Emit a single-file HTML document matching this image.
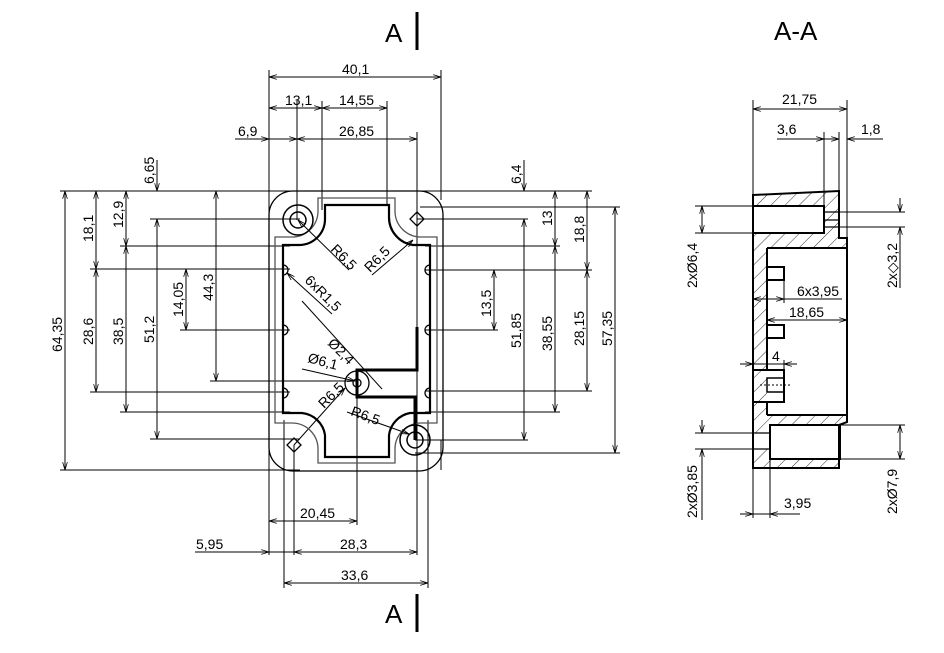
<!DOCTYPE html>
<html><head><meta charset="utf-8"><style>
html,body{margin:0;padding:0;background:#fff;}
svg{display:block;}
text{font-family:"Liberation Sans",sans-serif;font-size:14px;fill:#000;}
</style></head><body>
<svg width="944" height="653" viewBox="0 0 944 653" xmlns="http://www.w3.org/2000/svg">
<defs>
<marker id="a" viewBox="0 0 10 6" refX="10" refY="3" markerWidth="8" markerHeight="5" orient="auto-start-reverse" markerUnits="userSpaceOnUse"><path d="M0,0 L10,3 L0,6" fill="none" stroke="#000" stroke-width="1"/></marker>
<pattern id="h" width="10" height="10" patternUnits="userSpaceOnUse" patternTransform="rotate(45)"><line x1="0" y1="0" x2="0" y2="10" stroke="#000" stroke-width="0.8"/></pattern>
</defs>

<text x="385" y="42" style="font-size:26px">A</text>
<line x1="417" y1="12" x2="417" y2="50" stroke="#000" stroke-width="3"/>
<text x="385" y="623" style="font-size:26px">A</text>
<line x1="417" y1="594" x2="417" y2="632" stroke="#000" stroke-width="3"/>
<text x="774" y="40" style="font-size:26px">A-A</text>

<g stroke="#000" stroke-width="1" fill="none">
<line x1="269" y1="70" x2="269" y2="555"/>
<line x1="441" y1="70" x2="441" y2="200"/>
<line x1="297" y1="101" x2="297" y2="220"/>
<line x1="322" y1="101" x2="322" y2="210"/>
<line x1="387" y1="101" x2="387" y2="205"/>
<line x1="417" y1="132" x2="417" y2="555"/>
<line x1="294" y1="445" x2="294" y2="555"/>
<line x1="357" y1="383" x2="357" y2="525"/>
<line x1="284" y1="420" x2="284" y2="588"/>
<line x1="428" y1="420" x2="428" y2="588"/>
<line x1="441" y1="440" x2="441" y2="470"/>
<line x1="60" y1="191" x2="300" y2="191"/>
<line x1="420" y1="191" x2="592" y2="191"/>
<line x1="60" y1="470" x2="300" y2="470"/>
<line x1="150" y1="219" x2="300" y2="219"/>
<line x1="417" y1="219" x2="528" y2="219"/>
<line x1="120" y1="246" x2="290" y2="246"/>
<line x1="425" y1="246" x2="560" y2="246"/>
<line x1="90" y1="269" x2="290" y2="269"/>
<line x1="425" y1="270" x2="592" y2="270"/>
<line x1="180" y1="330" x2="290" y2="330"/>
<line x1="425" y1="330" x2="498" y2="330"/>
<line x1="210" y1="381" x2="357" y2="381"/>
<line x1="90" y1="392" x2="290" y2="392"/>
<line x1="425" y1="391" x2="592" y2="391"/>
<line x1="120" y1="412" x2="290" y2="412"/>
<line x1="425" y1="412" x2="560" y2="412"/>
<line x1="150" y1="439" x2="300" y2="439"/>
<line x1="415" y1="440" x2="528" y2="440"/>
<line x1="420" y1="207" x2="620" y2="207"/>
<line x1="415" y1="453" x2="620" y2="453"/>

<line x1="269" y1="77" x2="441" y2="77" marker-start="url(#a)" marker-end="url(#a)"/>
<line x1="269" y1="108" x2="322" y2="108" marker-start="url(#a)" marker-end="url(#a)"/>
<line x1="322" y1="108" x2="387" y2="108" marker-start="url(#a)" marker-end="url(#a)"/>
<line x1="297" y1="139" x2="417" y2="139" marker-start="url(#a)" marker-end="url(#a)"/>
<line x1="235" y1="139" x2="269" y2="139" marker-end="url(#a)"/>
<line x1="269" y1="139" x2="297" y2="139" marker-end="url(#a)"/>
<line x1="269" y1="521" x2="357" y2="521" marker-start="url(#a)" marker-end="url(#a)"/>
<line x1="294" y1="552" x2="417" y2="552" marker-start="url(#a)" marker-end="url(#a)"/>
<line x1="195" y1="552" x2="269" y2="552" marker-end="url(#a)"/>
<line x1="269" y1="552" x2="294" y2="552"/>
<line x1="284" y1="583" x2="428" y2="583" marker-start="url(#a)" marker-end="url(#a)"/>
<line x1="65" y1="191" x2="65" y2="470" marker-start="url(#a)" marker-end="url(#a)"/>
<line x1="96" y1="191" x2="96" y2="269" marker-start="url(#a)" marker-end="url(#a)"/>
<line x1="96" y1="269" x2="96" y2="392" marker-start="url(#a)" marker-end="url(#a)"/>
<line x1="126" y1="191" x2="126" y2="246" marker-start="url(#a)" marker-end="url(#a)"/>
<line x1="126" y1="246" x2="126" y2="412" marker-start="url(#a)" marker-end="url(#a)"/>
<line x1="157" y1="160" x2="157" y2="191" marker-end="url(#a)"/>
<line x1="157" y1="219" x2="157" y2="439" marker-start="url(#a)" marker-end="url(#a)"/>
<line x1="186" y1="269" x2="186" y2="330" marker-start="url(#a)" marker-end="url(#a)"/>
<line x1="216" y1="191" x2="216" y2="381" marker-start="url(#a)" marker-end="url(#a)"/>
<line x1="615" y1="207" x2="615" y2="453" marker-start="url(#a)" marker-end="url(#a)"/>
<line x1="587" y1="191" x2="587" y2="270" marker-start="url(#a)" marker-end="url(#a)"/>
<line x1="587" y1="270" x2="587" y2="391" marker-start="url(#a)" marker-end="url(#a)"/>
<line x1="555" y1="191" x2="555" y2="246" marker-start="url(#a)" marker-end="url(#a)"/>
<line x1="555" y1="246" x2="555" y2="412" marker-start="url(#a)" marker-end="url(#a)"/>
<line x1="524" y1="160" x2="524" y2="191" marker-end="url(#a)"/>
<line x1="524" y1="219" x2="524" y2="440" marker-start="url(#a)" marker-end="url(#a)"/>
<line x1="494" y1="270" x2="494" y2="330" marker-start="url(#a)" marker-end="url(#a)"/>

<line x1="298" y1="220" x2="349" y2="270" marker-start="url(#a)"/>
<line x1="372" y1="275" x2="413" y2="240" marker-end="url(#a)"/>
<line x1="287" y1="273" x2="332" y2="314" marker-start="url(#a)"/>
<line x1="302" y1="301" x2="382" y2="389" />
<line x1="302" y1="369" x2="355" y2="381" marker-end="url(#a)"/>
<line x1="294" y1="445" x2="345" y2="388" marker-end="url(#a)"/>
<line x1="347" y1="412" x2="409" y2="434" marker-end="url(#a)"/>

<rect x="269" y="191" width="174" height="280" rx="24" stroke-width="1.3"/>
<path d="M318,198 L395,198 L395,212 A26,26 0 0 0 421,237 L437,237 L437,423 L421,423 A26,26 0 0 0 395,449 L395,463 L318,463 L318,449 A26,26 0 0 0 292,423 L275,423 L275,237 L292,237 A26,26 0 0 0 318,212 Z" stroke="#555" stroke-width="1.3"/>
<path d="M325,205 L389,205 L389,217 A28,28 0 0 0 413,245 L430,245 L430,413 L410,413 A26,26 0 0 0 389,435 L389,457 L325,457 L325,435 A26,26 0 0 0 302,413 L283,413 L283,245 L300,245 A26,26 0 0 0 325,220 Z" stroke-width="2.2"/>
<path d="M283,265 a5,5 0 0 1 0,10 M283,325 a5,5 0 0 1 0,10 M283,388 a5,5 0 0 1 0,10 M430,265 a5,5 0 0 0 0,10 M430,325 a5,5 0 0 0 0,10 M430,388 a5,5 0 0 0 0,10" stroke-width="1.3"/>
<circle cx="298" cy="220" r="15" stroke-width="1.5"/>
<circle cx="298" cy="220" r="8" stroke-width="1.5"/>
<circle cx="415" cy="440" r="15" stroke-width="1.5"/>
<circle cx="415" cy="440" r="8" stroke-width="1.5"/>
<circle cx="357" cy="383" r="12" stroke-width="1.3"/>
<circle cx="357" cy="383" r="4" stroke-width="1.3"/>
<path d="M417,212 L424,219 L417,226 L410,219 Z" stroke-width="1.3"/>
<path d="M294,438 L301,445 L294,452 L287,445 Z" stroke-width="1.3"/>
<path d="M417,327 L417,370 L357,370 L357,397 L415,397 L415,440" stroke-width="3"/>

<path d="M753,195 L839,191 L839,238 L847,238 L847,422 L839,425 L839,468 L753,468 Z" fill="url(#h)" stroke="none"/>
<rect x="767" y="248" width="80" height="167" fill="#fff" stroke="none"/>
<rect x="753" y="206" width="71" height="27" fill="#fff" stroke="none"/>
<rect x="770" y="425" width="70" height="34" fill="#fff" stroke="none"/>
<rect x="753" y="433" width="17" height="16" fill="#fff" stroke="none"/>
<path d="M753,195 L839,191 L839,238 L847,238 L847,422 L839,425 L839,468 L753,468 Z" stroke-width="2"/>
<path d="M767,248 L847,248 M767,415 L847,415 M767,248 L767,370 M767,402 L767,415" stroke-width="2"/>
<rect x="753" y="206" width="71" height="27" stroke-width="2"/>
<path d="M824,212 L839,212 M824,220 L839,220 M824,227 L839,227" stroke-width="1.3"/>
<rect x="770" y="425" width="70" height="34" stroke-width="2"/>
<path d="M753,433 L770,433 M753,449 L770,449" stroke-width="1.3"/>
<rect x="767" y="267" width="17" height="13" stroke-width="2"/>
<rect x="767" y="325" width="17" height="13" stroke-width="2"/>
<rect x="753" y="370" width="31" height="32" stroke-width="2"/>
<rect x="767" y="378" width="17" height="14" stroke-width="1.5"/>
<line x1="760" y1="385" x2="790" y2="385" stroke-dasharray="2,2"/>

<line x1="753" y1="100" x2="753" y2="195"/>
<line x1="847" y1="100" x2="847" y2="238"/>
<line x1="824" y1="132" x2="824" y2="206"/>
<line x1="839" y1="132" x2="839" y2="191"/>
<line x1="753" y1="109" x2="847" y2="109" marker-start="url(#a)" marker-end="url(#a)"/>
<line x1="777" y1="139" x2="824" y2="139" marker-end="url(#a)"/>
<line x1="824" y1="139" x2="839" y2="139" marker-end="url(#a)"/>
<line x1="883" y1="139" x2="847" y2="139" marker-end="url(#a)"/>
<line x1="695" y1="206" x2="753" y2="206"/>
<line x1="695" y1="233" x2="753" y2="233"/>
<line x1="702" y1="206" x2="702" y2="233" marker-start="url(#a)" marker-end="url(#a)"/>
<line x1="839" y1="212" x2="905" y2="212"/>
<line x1="839" y1="227" x2="905" y2="227"/>
<line x1="900" y1="198" x2="900" y2="212" marker-end="url(#a)"/>
<line x1="900" y1="288" x2="900" y2="227" marker-end="url(#a)"/>
<line x1="784" y1="280" x2="784" y2="303"/>
<line x1="753" y1="299" x2="784" y2="299" marker-start="url(#a)" marker-end="url(#a)"/>
<line x1="784" y1="299" x2="842" y2="299"/>
<line x1="767" y1="320" x2="847" y2="320" marker-start="url(#a)" marker-end="url(#a)"/>
<line x1="784" y1="360" x2="784" y2="370"/>
<line x1="740" y1="364" x2="753" y2="364" marker-end="url(#a)"/>
<line x1="797" y1="364" x2="784" y2="364" marker-end="url(#a)"/>
<line x1="753" y1="364" x2="784" y2="364"/>
<line x1="695" y1="433" x2="753" y2="433"/>
<line x1="695" y1="449" x2="753" y2="449"/>
<line x1="702" y1="420" x2="702" y2="433" marker-end="url(#a)"/>
<line x1="702" y1="520" x2="702" y2="449" marker-end="url(#a)"/>
<line x1="840" y1="425" x2="905" y2="425"/>
<line x1="840" y1="459" x2="905" y2="459"/>
<line x1="900" y1="425" x2="900" y2="459" marker-start="url(#a)" marker-end="url(#a)"/>
<line x1="753" y1="468" x2="753" y2="518"/>
<line x1="770" y1="459" x2="770" y2="518"/>
<line x1="740" y1="514" x2="753" y2="514" marker-end="url(#a)"/>
<line x1="800" y1="514" x2="770" y2="514" marker-end="url(#a)"/>
<line x1="753" y1="514" x2="770" y2="514"/>
</g>

<text x="342" y="74">40,1</text>
<text x="285" y="105">13,1</text>
<text x="339" y="105">14,55</text>
<text x="339" y="136">26,85</text>
<text x="238" y="136">6,9</text>
<text x="300" y="518">20,45</text>
<text x="340" y="549">28,3</text>
<text x="196" y="549">5,95</text>
<text x="341" y="580">33,6</text>
<text transform="translate(62,352) rotate(-90)">64,35</text>
<text transform="translate(93,242) rotate(-90)">18,1</text>
<text transform="translate(93,345) rotate(-90)">28,6</text>
<text transform="translate(123,228) rotate(-90)">12,9</text>
<text transform="translate(123,345) rotate(-90)">38,5</text>
<text transform="translate(154,184) rotate(-90)">6,65</text>
<text transform="translate(154,343) rotate(-90)">51,2</text>
<text transform="translate(183,317) rotate(-90)">14,05</text>
<text transform="translate(213,301) rotate(-90)">44,3</text>
<text transform="translate(612,346) rotate(-90)">57,35</text>
<text transform="translate(584,243) rotate(-90)">18,8</text>
<text transform="translate(584,346) rotate(-90)">28,15</text>
<text transform="translate(552,226) rotate(-90)">13</text>
<text transform="translate(552,351) rotate(-90)">38,55</text>
<text transform="translate(521,184) rotate(-90)">6,4</text>
<text transform="translate(521,348) rotate(-90)">51,85</text>
<text transform="translate(491,317) rotate(-90)">13,5</text>
<text transform="translate(330,250) rotate(45)">R6,5</text>
<text transform="translate(370,273) rotate(-45)">R6,5</text>
<text transform="translate(304,281) rotate(45)">6xR1,5</text>
<text transform="translate(327,344) rotate(45)">Ø2,4</text>
<text transform="translate(307,362) rotate(15)">Ø6,1</text>
<text transform="translate(324,409) rotate(-45)">R6,5</text>
<text transform="translate(350,415) rotate(20)">R6,5</text>

<text x="782" y="104">21,75</text>
<text x="777" y="134">3,6</text>
<text x="861" y="134">1,8</text>
<text transform="translate(697,288) rotate(-90)">2xØ6,4</text>
<text transform="translate(897,288) rotate(-90)">2x◇3,2</text>
<text x="797" y="296">6x3,95</text>
<text x="789" y="317">18,65</text>
<text x="772" y="361">4</text>
<text transform="translate(697,518) rotate(-90)">2xØ3,85</text>
<text transform="translate(897,514) rotate(-90)">2xØ7,9</text>
<text x="784" y="508">3,95</text>
</svg>
</body></html>
